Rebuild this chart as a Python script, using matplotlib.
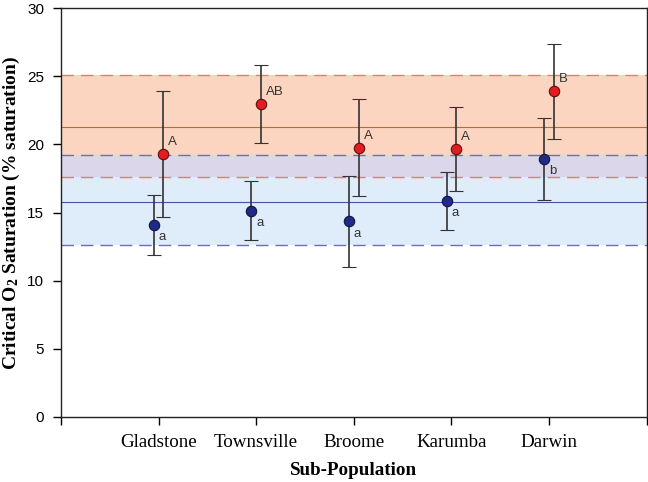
import matplotlib
matplotlib.use("Agg")
import matplotlib.pyplot as plt
import numpy as np

categories = ["Gladstone", "Townsville", "Broome", "Karumba", "Darwin"]
blue_mean = [14.1, 15.15, 14.35, 15.85, 18.95]
blue_err = [2.2, 2.2, 3.35, 2.1, 3.0]
red_mean = [19.3, 22.95, 19.75, 19.65, 23.9]
red_err = [4.65, 2.85, 3.55, 3.1, 3.5]
blue_letters = ["a", "a", "a", "a", "b"]
red_letters = ["A", "AB", "A", "A", "B"]

blue_band = (12.6, 15.75, 19.2)   # lower, mean, upper
red_band = (17.6, 21.25, 25.1)

fig = plt.figure(figsize=(6.48, 4.82), dpi=100)
ax = fig.add_axes([0.094, 0.135, 0.904, 0.848])

ax.set_xlim(0, 6)
ax.set_ylim(0, 30)

# bands
ax.axhspan(red_band[0], red_band[2], color="#fbd5bf", lw=0, zorder=0)
ax.axhspan(blue_band[0], blue_band[2], color="#dfecf9", lw=0, zorder=0)
ax.axhspan(red_band[0], blue_band[2], color="#dbd6ea", lw=0, zorder=0)

dash = (0, (9, 5))
ax.axhline(red_band[2], color="#ec7a68", lw=1.0, ls=dash, zorder=1)
ax.axhline(red_band[0], color="#ec7a68", lw=1.0, ls=dash, zorder=1)
ax.axhline(red_band[1], color="#ee4f3a", lw=0.8, zorder=1)
ax.axhline(blue_band[2], color="#6a6fbc", lw=1.0, ls=dash, zorder=1)
ax.axhline(blue_band[0], color="#6a6fbc", lw=1.0, ls=dash, zorder=1)
ax.axhline(blue_band[1], color="#4a52a8", lw=0.8, zorder=1)

x = np.arange(1, len(categories) + 1)
off = 0.05
ax.errorbar(x - off, blue_mean, yerr=blue_err, fmt="o", color="#202a88",
            ms=7.5, mec="#10153f", mew=0.8, ecolor="#333333", elinewidth=1.2,
            capsize=5, capthick=1.2, zorder=3)
ax.errorbar(x + off, red_mean, yerr=red_err, fmt="o", color="#e51b1f",
            ms=7.5, mec="#5a1010", mew=0.8, ecolor="#333333", elinewidth=1.2,
            capsize=5, capthick=1.2, zorder=3)

for xi, m, t in zip(x - off, blue_mean, blue_letters):
    ax.text(xi + 0.05, m - 0.45, t, fontsize=9.5, family="Liberation Sans",
            color="#333333", ha="left", va="top", zorder=4)
for xi, m, t in zip(x + off, red_mean, red_letters):
    ax.text(xi + 0.05, m + 0.45, t, fontsize=9.5, family="Liberation Sans",
            color="#333333", ha="left", va="bottom", zorder=4)

ax.set_xticks(np.arange(0, 7))
ax.set_xticklabels([""] + categories + [""], family="Liberation Serif", fontsize=13.7)
ax.set_yticks(np.arange(0, 31, 5))
ax.set_yticklabels([str(v) for v in range(0, 31, 5)], family="Liberation Sans", fontsize=11)
ax.tick_params(axis="x", direction="out", length=6, width=1, pad=6)
ax.tick_params(axis="y", direction="out", length=6, width=1, pad=6)

for s in ax.spines.values():
    s.set_linewidth(1.0)
    s.set_color("#222222")

ax.set_xlabel("Sub-Population", family="Liberation Serif", fontsize=13.7,
              fontweight="bold", labelpad=8)
ax.set_ylabel("Critical O$\\mathregular{_2}$ Saturation (% saturation)",
              family="Liberation Serif", fontsize=14, fontweight="bold")
ax.yaxis.set_label_coords(-0.066, 0.5)

fig.savefig("out.png", dpi=100)
